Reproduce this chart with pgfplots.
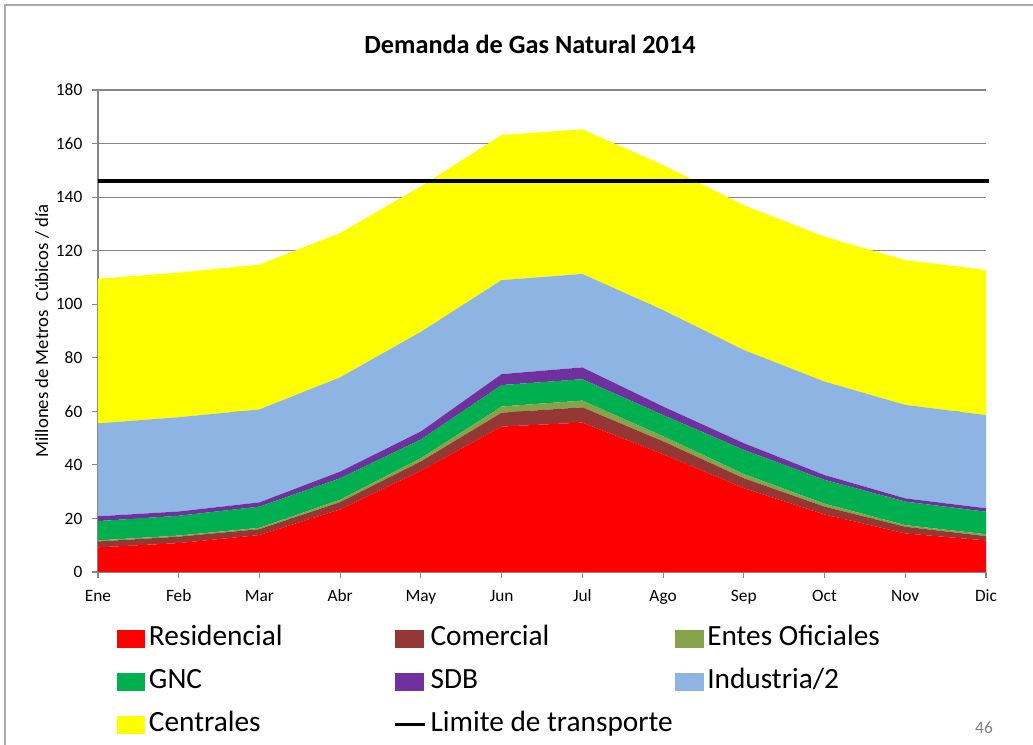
\documentclass[border=0pt]{standalone}
\usepackage{fontspec}
\setmainfont{Carlito}
\usepackage{pgfplots}
\usepackage{pgfplotstable}
\pgfplotsset{compat=1.18}
\definecolor{cRes}{RGB}{255,0,0}
\definecolor{cCom}{RGB}{149,55,53}
\definecolor{cEnt}{RGB}{134,163,75}
\definecolor{cGNC}{RGB}{0,176,80}
\definecolor{cSDB}{RGB}{112,48,160}
\definecolor{cInd}{RGB}{141,180,226}
\definecolor{cCen}{RGB}{255,255,0}
\definecolor{axgray}{RGB}{134,134,134}
\definecolor{framegray}{RGB}{170,170,170}
\pgfplotstableread{
x R C E G S I Ce
0 9.2 2.2 0.4 7.2 1.8 34.7 54.0
1 10.8 2.4 0.4 7.4 1.6 35.2 54.0
2 13.8 2.2 0.5 7.9 1.6 34.7 54.1
3 23.4 2.7 0.9 8.0 2.5 35.2 53.9
4 37.8 3.5 1.2 7.0 3.0 37.2 54.3
5 54.3 5.2 2.3 8.0 4.1 35.1 54.2
6 55.8 5.7 2.5 8.0 4.4 34.9 54.0
7 44.0 4.8 1.9 7.9 3.2 36.0 54.2
8 31.3 3.7 1.6 9.0 2.5 34.8 54.1
9 21.5 2.9 1.1 8.9 1.8 34.9 54.1
10 14.4 2.5 0.6 8.8 1.2 34.9 54.1
11 11.8 1.6 0.7 8.4 1.3 34.8 54.2
}\datatable
\begin{document}
\begin{tikzpicture}
\useasboundingbox (0,0) rectangle (774.75pt,558.75pt);
\draw[color=framegray, line width=1.5pt] (3.75pt,0) -- (3.75pt,555pt) -- (774.75pt,555pt);
\begin{axis}[
  at={(73.5pt,129.75pt)}, anchor=south west,
  width=666pt, height=361.5pt, scale only axis,
  xmin=0, xmax=11, ymin=0, ymax=180,
  xtick={0,...,11},
  xticklabels={Ene,Feb,Mar,Abr,May,Jun,Jul,Ago,Sep,Oct,Nov,Dic},
  ytick={0,20,...,180},
  axis lines=left,
  axis line style={color=axgray, line width=0.8pt, -},
  ymajorgrids, grid style={color=axgray, line width=0.8pt},
  tick style={color=axgray, line width=0.8pt},
  tick align=outside, major tick length=4.5pt,
  ticklabel style={font=\fontsize{13}{15}\selectfont, text=black},
  yticklabel style={xshift=-3.75pt},
  xticklabel style={text height=9pt, text depth=2pt, yshift=-5pt},
  /pgf/number format/assume math mode=true,
  stack plots=y,
  title={\textbf{Demanda de Gas Natural 2014}},
  title style={at={(axis description cs:0.4865,1)}, anchor=center, yshift=28.5pt, font=\fontsize{19.7}{22}\selectfont},
  ylabel={Millones de Metros\ \ Cúbicos / día},
  ylabel style={at={(axis description cs:-0.063,0.5)}, anchor=center, font=\fontsize{14}{16}\selectfont},
  legend columns=3,
  legend cell align=left,
  legend style={at={(axis description cs:0.0214,-0.112)}, anchor=north west,
    draw=none, fill=none, inner sep=0pt, outer sep=0pt,
    row sep=13.25pt, font=\fontsize{22}{24}\selectfont,
    nodes={inner sep=0pt, text height=15pt, text depth=4pt},
    /tikz/every odd column/.append style={column sep=2.7pt}},
]
\addplot[fill=cRes, draw=none, legend image code/.code={\fill[cRes] (0pt,-6.75pt) rectangle (21.3pt,6.75pt);}] table[x=x,y=R]{\datatable} \closedcycle;
\addlegendentry{\makebox[183.5pt][l]{Residencial}}
\addplot[fill=cCom, draw=none, legend image code/.code={\fill[cCom] (0pt,-6.75pt) rectangle (21.3pt,6.75pt);}] table[x=x,y=C]{\datatable} \closedcycle;
\addlegendentry{\makebox[183.5pt][l]{Comercial}}
\addplot[fill=cEnt, draw=none, legend image code/.code={\fill[cEnt] (0pt,-6.75pt) rectangle (21.3pt,6.75pt);}] table[x=x,y=E]{\datatable} \closedcycle;
\addlegendentry{Entes Oficiales}
\addplot[fill=cGNC, draw=none, legend image code/.code={\fill[cGNC] (0pt,-6.75pt) rectangle (21.3pt,6.75pt);}] table[x=x,y=G]{\datatable} \closedcycle;
\addlegendentry{\makebox[183.5pt][l]{GNC}}
\addplot[fill=cSDB, draw=none, legend image code/.code={\fill[cSDB] (0pt,-6.75pt) rectangle (21.3pt,6.75pt);}] table[x=x,y=S]{\datatable} \closedcycle;
\addlegendentry{\makebox[183.5pt][l]{SDB}}
\addplot[fill=cInd, draw=none, legend image code/.code={\fill[cInd] (0pt,-6.75pt) rectangle (21.3pt,6.75pt);}] table[x=x,y=I]{\datatable} \closedcycle;
\addlegendentry{Industria/2}
\addplot[fill=cCen, draw=none, legend image code/.code={\fill[cCen] (0pt,-6.75pt) rectangle (21.3pt,6.75pt);}] table[x=x,y=Ce]{\datatable} \closedcycle;
\addlegendentry{\makebox[183.5pt][l]{Centrales}}
\addlegendimage{legend image code/.code={\draw[black, line width=2.5pt] (0pt,0pt) -- (22.5pt,0pt);}}
\addlegendentry{Limite de transporte}
\end{axis}
\begin{axis}[
  at={(73.5pt,129.75pt)}, anchor=south west,
  width=666pt, height=361.5pt, scale only axis,
  xmin=0, xmax=11, ymin=0, ymax=180,
  hide axis, clip=false,
]
\addplot[black, line width=2.5pt] coordinates {(0,146) (11.04,146)};
\end{axis}
\node[text=gray, font=\fontsize{13}{15}\selectfont] at (738pt,12.75pt) {46};
\end{tikzpicture}
\end{document}
